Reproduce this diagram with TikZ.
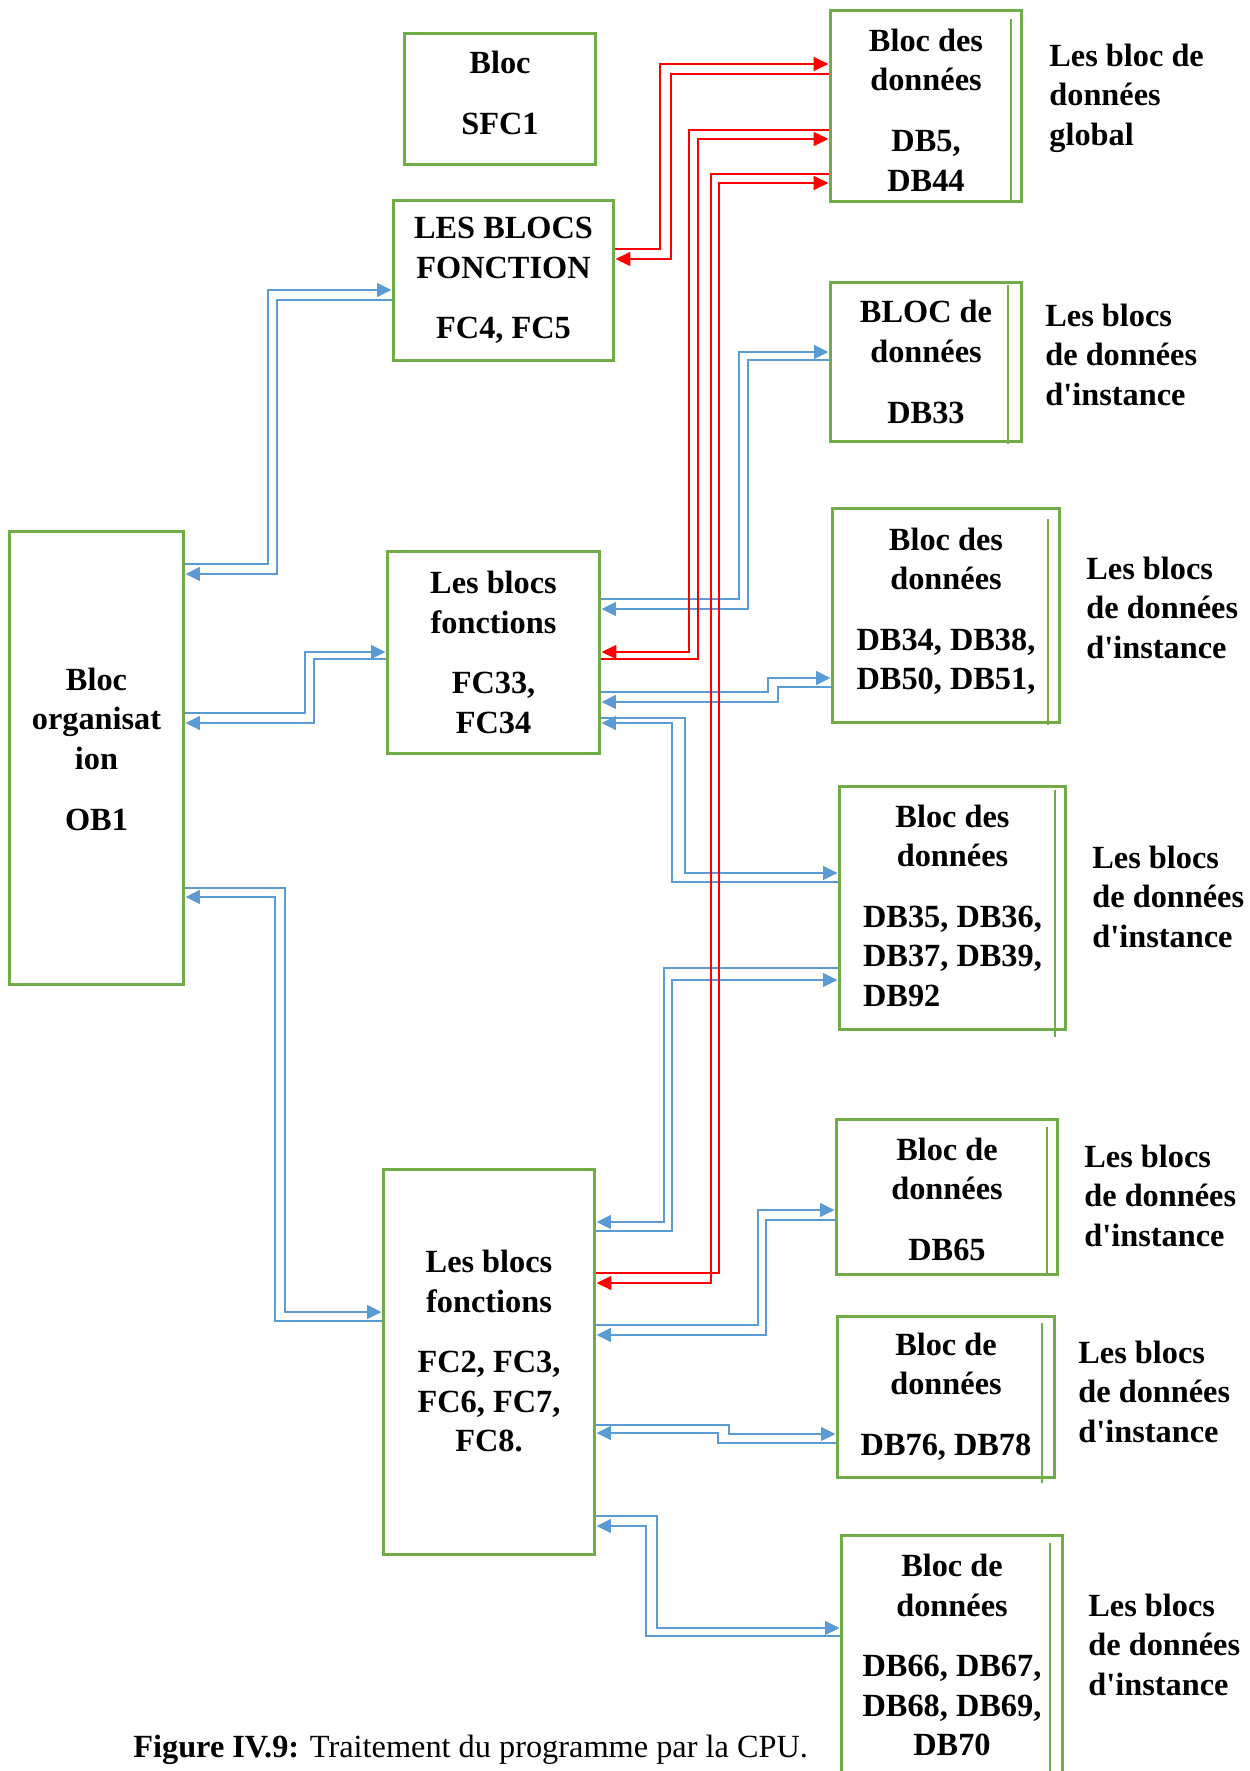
\documentclass[tikz,border=0pt]{standalone}
\usepackage{fontspec}
\setmainfont{Liberation Serif}
\usepackage{xcolor}
\usetikzlibrary{arrows.meta,positioning}
\definecolor{vertbloc}{HTML}{70AD47}
\definecolor{bleulien}{HTML}{5B9BD5}
\definecolor{rougelien}{HTML}{FF0000}
\tikzset{%
	bloc/.style      = {draw=vertbloc, line width=0.06cm, align=center, inner sep=0pt, font=\fontsize{18.4}{22.5}\selectfont\bfseries},
	legende/.style   = {anchor=north west, align=left, inner sep=0pt, font=\fontsize{18.4}{22.5}\selectfont\bfseries},
	filet/.style     = {draw=vertbloc, line width=0.04cm},
	lienbleu/.style  = {draw=bleulien, line width=0.03cm, -{Triangle[length=0.29cm,width=0.28cm]}},
	lienrouge/.style = {draw=rougelien, line width=0.035cm, -{Triangle[length=0.3cm,width=0.28cm]}},
}

\begin{document}
\begin{tikzpicture}[x=0.02cm, y=-0.02cm]
	\clip (0,0) rectangle (1249,1771);
	
	\node[bloc, minimum width=3.84cm, minimum height=2.64cm] (sfc1) at (500,99) {Bloc\\[12pt]SFC1\rule[-0.24cm]{0pt}{0.24cm}};
	\node[bloc, minimum width=4.42cm, minimum height=3.22cm] (fc45) at (503.5,280.5) {LES BLOCS\\FONCTION\\[12pt]FC4, FC5};
	\node[bloc, minimum width=3.5cm, minimum height=9.08cm] (ob1) at (96.5,758) {Bloc\\organisat\\ion\\[12pt]OB1\rule[-0.36cm]{0pt}{0.36cm}};
	\node[bloc, minimum width=4.26cm, minimum height=4.06cm] (fc33) at (493.5,652.5) {Les blocs\\fonctions\\[12pt]FC33,\\FC34};
	\node[bloc, minimum width=4.24cm, minimum height=7.72cm] (fc2) at (489,1362) {Les blocs\\fonctions\\[12pt]FC2, FC3,\\FC6, FC7,\\FC8.\rule[-0.44cm]{0pt}{0.44cm}};
	
	\node[bloc, minimum width=3.84cm, minimum height=3.84cm] (db5) at (926,106) {\rule{0pt}{0.61cm}Bloc des\\données\\[12pt]DB5,\\DB44};
	\node[bloc, minimum width=3.84cm, minimum height=3.2cm] (db33) at (926,362) {BLOC de\\données\\[12pt]DB33};
	\node[bloc, minimum width=4.56cm, minimum height=4.3cm] (db34) at (946,615.5) {Bloc des\\données\\[12pt]DB34, DB38,\\DB50, DB51,\rule[-0.27cm]{0pt}{0.27cm}};
	\node[bloc, minimum width=4.54cm, minimum height=4.88cm] (db35) at (952.5,908) {Bloc des\\données\\[12pt]DB35, DB36,\\DB37, DB39,\\DB92\phantom{, DB39,}};
	\node[bloc, minimum width=4.44cm, minimum height=3.1cm] (db65) at (947,1196.5) {\rule{0pt}{0.55cm}Bloc de\\données\\[12pt]DB65};
	\node[bloc, minimum width=4.36cm, minimum height=3.22cm] (db76) at (946,1396.5) {Bloc de\\données\\[12pt]DB76, DB78};
	\node[bloc, minimum width=4.44cm, minimum height=4.8cm] (db66) at (952,1655) {Bloc de\\données\\[12pt]DB66, DB67,\\DB68, DB69,\\DB70};
	
	\draw[filet] (1011,19) -- (1011,202);
	\draw[filet] (1008,285) -- (1008,444);
	\draw[filet] (1048,519) -- (1048,725);
	\draw[filet] (1055,790) -- (1055,1037);
	\draw[filet] (1047,1127) -- (1047,1274);
	\draw[filet] (1042,1323) -- (1042,1483);
	\draw[filet] (1050,1543) -- (1050,1771);
	
	\node[legende] (lglobal) at (1049,43.5) {Les bloc de\\données\\global};
	\node[legende] (linst33) at (1045,303.5) {Les blocs\\de données\\d\textquotesingle instance};
	\node[legende] (linst34) at (1086,556.5) {Les blocs\\de données\\d\textquotesingle instance};
	\node[legende] (linst35) at (1092,845.5) {Les blocs\\de données\\d\textquotesingle instance};
	\node[legende] (linst65) at (1084,1144.5) {Les blocs\\de données\\d\textquotesingle instance};
	\node[legende] (linst76) at (1078,1340.5) {Les blocs\\de données\\d\textquotesingle instance};
	\node[legende] (linst66) at (1088,1593.5) {Les blocs\\de données\\d\textquotesingle instance};
	
	\node[anchor=base west, inner sep=0pt, font=\fontsize{18.4}{22.5}\selectfont] (titre) at (133,1757) {\textbf{Figure IV.9:} Traitement du programme par la CPU.};
	
	% OB1 et les blocs fonctions
	\draw[lienbleu] (ob1.east |- 0,564) -| (268,290) -- (fc45.west |- 0,290);
	\draw[lienbleu] (fc45.west |- 0,300) -| (277,574) -- (ob1.east |- 0,574);
	\draw[lienbleu] (ob1.east |- 0,713) -| (305,652) -- (fc33.west |- 0,652);
	\draw[lienbleu] (fc33.west |- 0,659) -| (314,723) -- (ob1.east |- 0,723);
	\draw[lienbleu] (ob1.east |- 0,888) -| (285,1312) -- (fc2.west |- 0,1312);
	\draw[lienbleu] (fc2.west |- 0,1321) -| (275,897) -- (ob1.east |- 0,897);
	
	% FC33, FC34 et les DB d'instance
	\draw[lienbleu] (fc33.east |- 0,599) -| (739,352) -- (db33.west |- 0,352);
	\draw[lienbleu] (db33.west |- 0,360) -| (748,609) -- (fc33.east |- 0,609);
	\draw[lienbleu] (fc33.east |- 0,692) -| (768,678) -- (db34.west |- 0,678);
	\draw[lienbleu] (db34.west |- 0,687) -| (778,702) -- (fc33.east |- 0,702);
	\draw[lienbleu] (fc33.east |- 0,718) -| (685,873) -- (db35.west |- 0,873);
	\draw[lienbleu] (db35.west |- 0,882) -| (672,723) -- (fc33.east |- 0,723);
	
	% FC2 ... FC8 et les DB d'instance
	\draw[lienbleu] (db35.west |- 0,968) -| (664,1222) -- (fc2.east |- 0,1222);
	\draw[lienbleu] (fc2.east |- 0,1231) -| (672,980) -- (db35.west |- 0,980);
	\draw[lienbleu] (fc2.east |- 0,1325) -| (758,1210) -- (db65.west |- 0,1210);
	\draw[lienbleu] (db65.west |- 0,1220) -| (766,1335) -- (fc2.east |- 0,1335);
	\draw[lienbleu] (fc2.east |- 0,1425) -| (729,1434) -- (db76.west |- 0,1434);
	\draw[lienbleu] (db76.west |- 0,1443) -| (718,1433) -- (fc2.east |- 0,1433);
	\draw[lienbleu] (fc2.east |- 0,1516) -| (657,1628) -- (db66.west |- 0,1628);
	\draw[lienbleu] (db66.west |- 0,1636) -| (646,1526) -- (fc2.east |- 0,1526);
	
	% DB global
	\draw[lienrouge] (fc45.east |- 0,249) -| (660,64) -- (db5.west |- 0,64);
	\draw[lienrouge] (db5.west |- 0,74) -| (671,259) -- (fc45.east |- 0,259);
	\draw[lienrouge] (db5.west |- 0,130) -| (689,652) -- (fc33.east |- 0,652);
	\draw[lienrouge] (fc33.east |- 0,659) -| (698,139) -- (db5.west |- 0,139);
	\draw[lienrouge] (db5.west |- 0,174) -| (711,1283) -- (fc2.east |- 0,1283);
	\draw[lienrouge] (fc2.east |- 0,1273) -| (719,183) -- (db5.west |- 0,183);
	
\end{tikzpicture}
\end{document}
